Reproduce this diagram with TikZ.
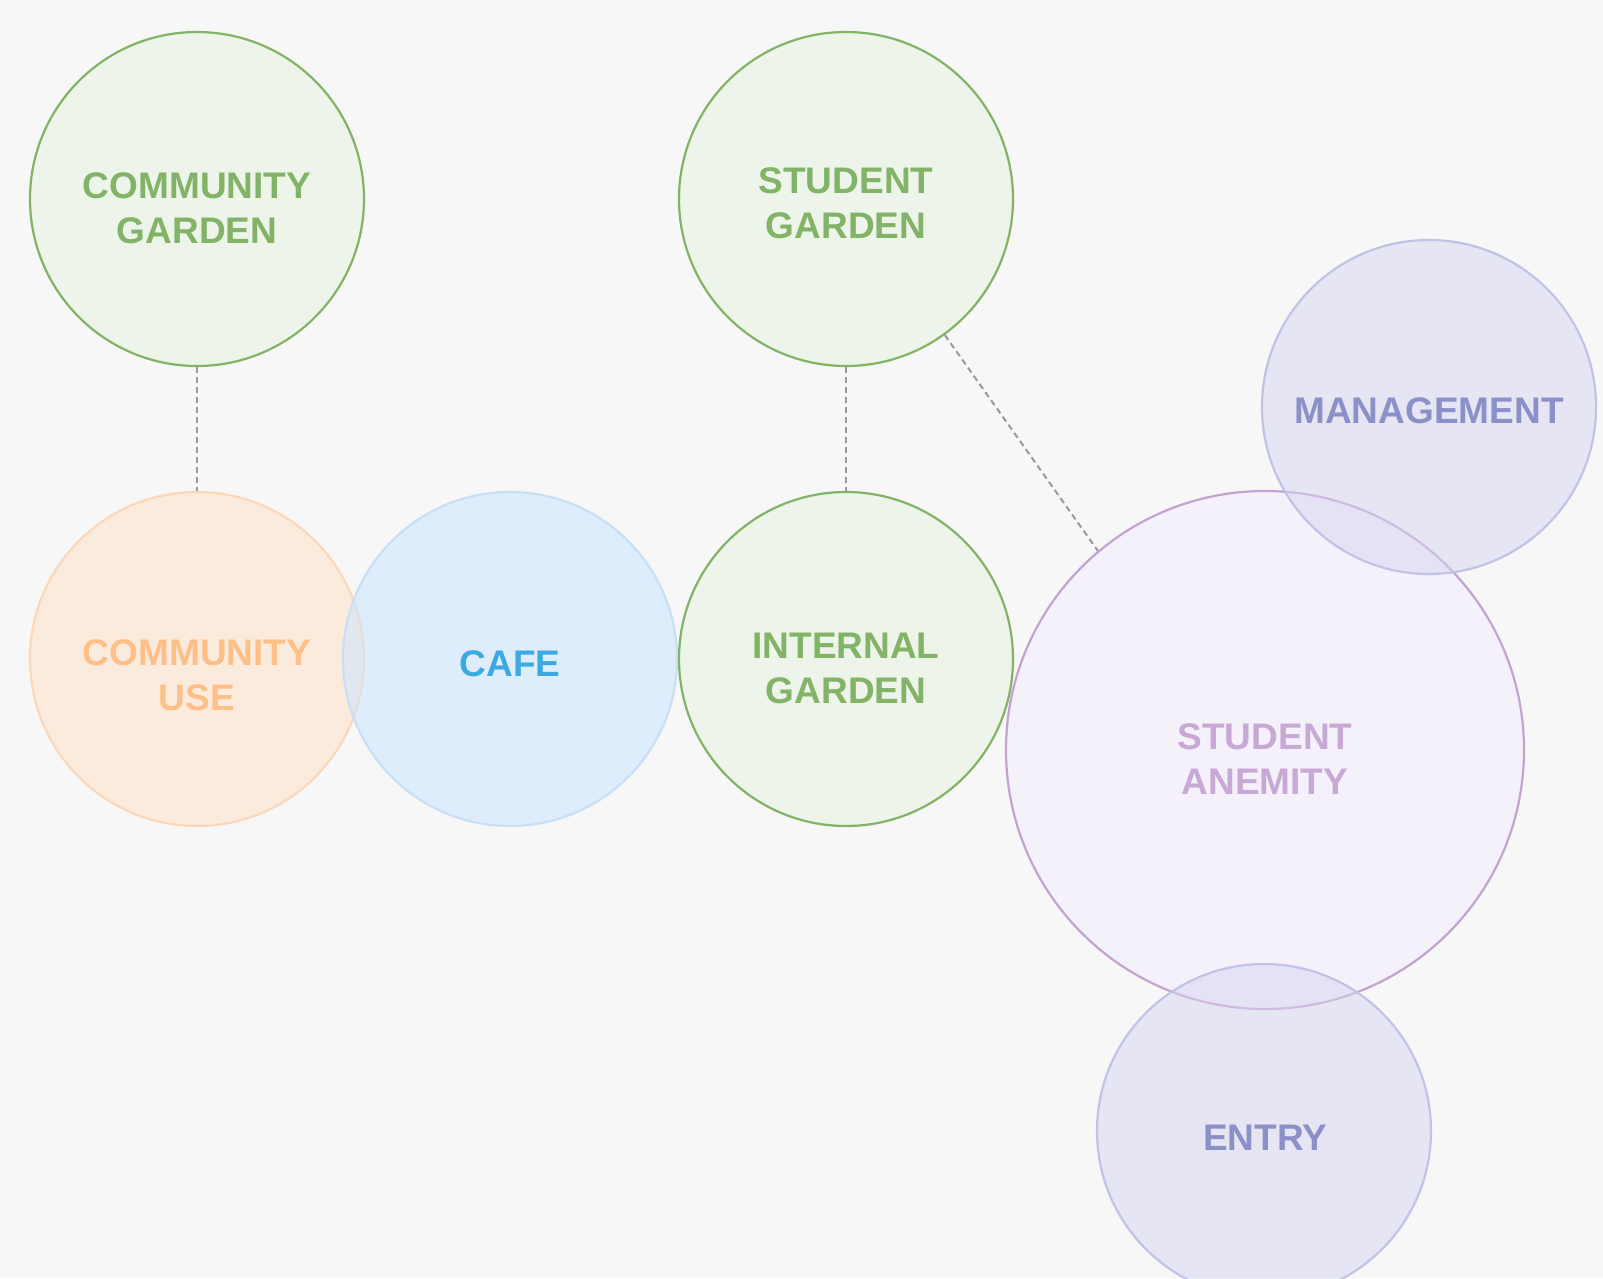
\documentclass[tikz,border=0pt]{standalone}
\usepackage{fontspec}
\setmainfont{Liberation Sans}
\definecolor{bg}{HTML}{F7F7F7}
\definecolor{grS}{HTML}{82B366}
\definecolor{grF}{HTML}{E5F3DD}
\definecolor{grT}{HTML}{82B366}
\definecolor{orS}{HTML}{FCD8BA}
\definecolor{orF}{HTML}{FFE1C5}
\definecolor{orT}{HTML}{FFBF88}
\definecolor{blS}{HTML}{C9DFF5}
\definecolor{blF}{HTML}{C7E5FF}
\definecolor{blT}{HTML}{3CA9E1}
\definecolor{puS}{HTML}{C3A3D0}
\definecolor{puF}{HTML}{F3EDFD}
\definecolor{puT}{HTML}{C8A8D5}
\definecolor{vlS}{HTML}{C0C3E6}
\definecolor{vlF}{HTML}{D7D5F1}
\definecolor{vlT}{HTML}{8C90C8}
\definecolor{dash}{HTML}{9A9A9A}
\tikzset{
  bubble/.style={circle, line width=2.2pt, minimum size=334pt, inner sep=0pt, fill opacity=0.5},
  bigbubble/.style={bubble, minimum size=518pt},
  green/.style={draw=grS, fill=grF},
  orange/.style={draw=orS, fill=orF},
  blue/.style={draw=blS, fill=blF},
  purple/.style={draw=puS, fill=puF},
  violet/.style={draw=vlS, fill=vlF},
  lbl/.style={font=\fontsize{37pt}{45pt}\selectfont\bfseries, align=center, inner sep=0pt},
  link/.style={draw=dash, line width=2pt, dash pattern=on 6pt off 4pt},
}
\begin{document}
\begin{tikzpicture}[x=1pt, y=-1pt]
\fill[bg] (0,0) rectangle (1603,1278);
\useasboundingbox (0,0) rectangle (1603,1278);
% circles
\node[bubble, green] (cg) at (197,199) {};
\node[bubble, green] (sg) at (846,199) {};
\node[bubble, orange] (cu) at (197,659) {};
\node[bubble, blue] (cafe) at (510,659) {};
\node[bubble, green] (ig) at (846,659) {};
\node[bigbubble, purple] (sa) at (1265,750) {};
\node[bubble, violet] (mg) at (1429,407) {};
\node[bubble, violet] (en) at (1264,1131) {};
% connectors
\draw[link] (cg.south) -- (cu.north);
\draw[link] (sg.south) -- (ig.north);
\draw[link] (sg.-54) -- (sa.130);
% labels
\node[lbl, text=grT] (cgt) at (197,208.5) {COMMUNITY\\GARDEN};
\node[lbl, text=grT] (sgt) at (846,203) {STUDENT\\GARDEN};
\node[lbl, text=orT] (cut) at (197,675) {COMMUNITY\\USE};
\node[lbl, text=blT] (cafet) at (510,663.5) {CAFE};
\node[lbl, text=grT] (igt) at (846,668) {INTERNAL\\GARDEN};
\node[lbl, text=puT] (sat) at (1265,759.5) {STUDENT\\ANEMITY};
\node[lbl, text=vlT] (mgt) at (1429,411) {MANAGEMENT};
\node[lbl, text=vlT] (ent) at (1265,1138) {ENTRY};
\end{tikzpicture}
\end{document}
